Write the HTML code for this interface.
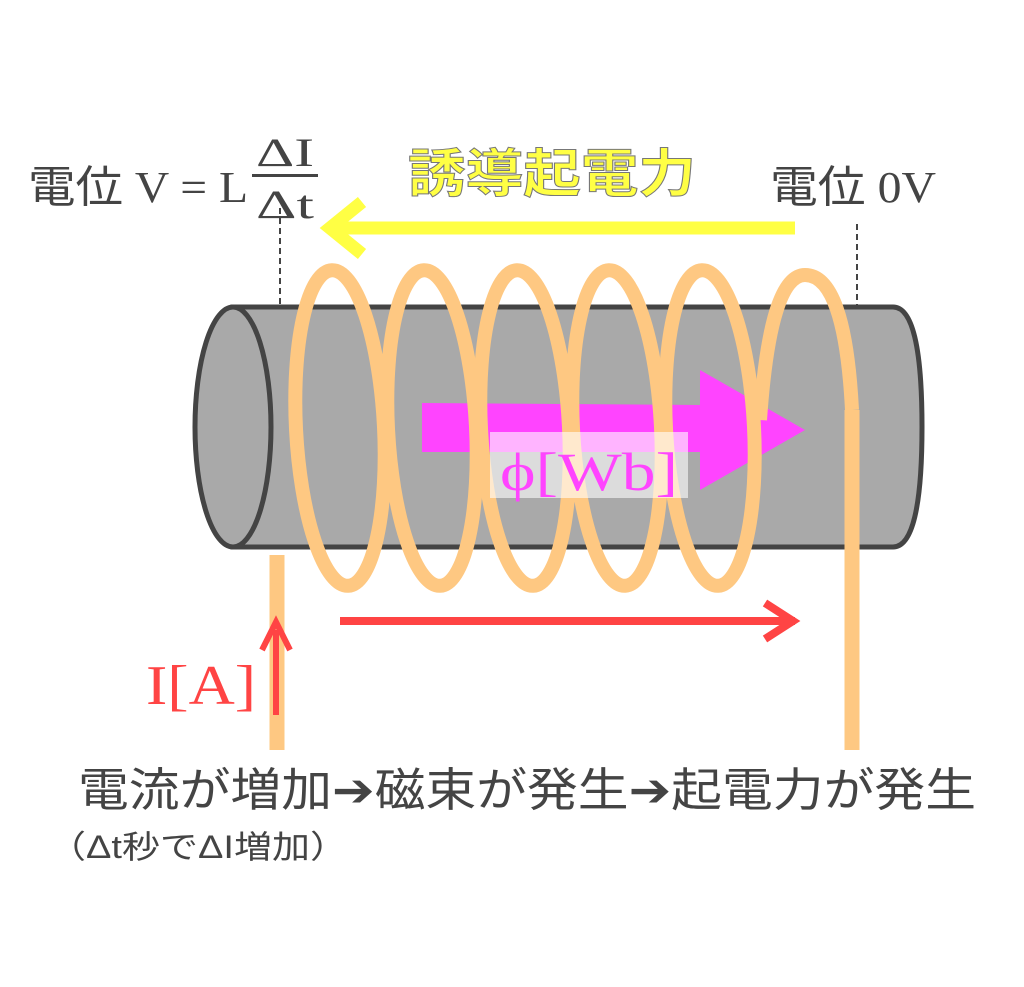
<!DOCTYPE html>
<html><head><meta charset="utf-8"><style>html,body{margin:0;padding:0;background:#fff}svg{display:block}</style></head>
<body>
<svg width="1024" height="987" viewBox="0 0 1024 987" xmlns="http://www.w3.org/2000/svg">
<rect width="1024" height="987" fill="#fff"/>
<g font-family="'Liberation Serif','Noto Serif CJK SC',serif" fill="#444">
<text x="28" y="202" font-size="44" textLength="220" lengthAdjust="spacingAndGlyphs" font-family="'Liberation Serif','Noto Sans CJK JP',serif">電位 V = L</text>
<text x="256" y="166" font-size="40" textLength="58" lengthAdjust="spacingAndGlyphs">ΔI</text>
<rect x="252" y="174" width="66" height="3" fill="#444"/>
<text x="256" y="218" font-size="40" textLength="58" lengthAdjust="spacingAndGlyphs">Δt</text>
<text x="770" y="202" font-size="44" textLength="166" lengthAdjust="spacingAndGlyphs" font-family="'Liberation Serif','Noto Sans CJK JP',serif">電位 0V</text>
</g>
<text x="408" y="192" font-size="52" font-weight="bold" fill="#ffff44" stroke="#777" stroke-width="1" textLength="288" lengthAdjust="spacingAndGlyphs" font-family="'Liberation Sans','Noto Sans CJK JP',sans-serif">誘導起電力</text>
<line x1="795" y1="228" x2="335" y2="228" stroke="#ffff44" stroke-width="13"/>
<polyline points="362,202 330,228 362,254" fill="none" stroke="#ffff44" stroke-width="13"/>
<line x1="280" y1="208" x2="280" y2="388" stroke="#444" stroke-width="2" stroke-dasharray="6,4"/>
<line x1="857" y1="224" x2="857" y2="388" stroke="#444" stroke-width="2" stroke-dasharray="6,4"/>
<path d="M233,307 L893,307 Q922,307 922,427 Q922,547 893,547 L233,547 Z" fill="#a9a9a9" stroke="#444" stroke-width="5"/>
<ellipse cx="233" cy="427" rx="38" ry="120" fill="#a9a9a9" stroke="#444" stroke-width="5"/>
<path d="M422,403 L700,405 L700,370 L805,430 L700,490 L700,452 L422,452 Z" fill="#ff44ff"/>
<line x1="277" y1="555" x2="277" y2="750" stroke="#fec882" stroke-width="15"/>
<line x1="852" y1="410" x2="852" y2="750" stroke="#fec882" stroke-width="15"/>
<g fill="none" stroke="#fec882" stroke-width="14">
<ellipse cx="340" cy="428" rx="44" ry="158" transform="rotate(-3 340 428)"/>
<ellipse cx="432" cy="428" rx="44" ry="158" transform="rotate(-3 432 428)"/>
<ellipse cx="525" cy="428" rx="44" ry="158" transform="rotate(-3 525 428)"/>
<ellipse cx="617" cy="428" rx="44" ry="158" transform="rotate(-3 617 428)"/>
<ellipse cx="710" cy="428" rx="44" ry="158" transform="rotate(-3 710 428)"/>
<path d="M760,420 Q770,275 805,275 Q845,275 852,410"/>
</g>
<rect x="490" y="432" width="198" height="66" fill="#fff" fill-opacity="0.6"/>
<text x="500" y="490" font-size="54" fill="#ff44ff" font-family="'Liberation Serif',serif" textLength="178" lengthAdjust="spacingAndGlyphs">ϕ[Wb]</text>
<line x1="340" y1="621" x2="795" y2="621" stroke="#ff4444" stroke-width="8"/>
<polyline points="765,603 793,621 765,639" fill="none" stroke="#ff4444" stroke-width="8"/>
<line x1="276" y1="715" x2="276" y2="630" stroke="#ff4444" stroke-width="6"/>
<polyline points="262,650 276,622 290,650" fill="none" stroke="#ff4444" stroke-width="6"/>
<text x="146" y="704" font-size="56" fill="#ff4444" font-family="'Liberation Serif',serif" textLength="110" lengthAdjust="spacingAndGlyphs">I[A]</text>
<text x="78" y="806" font-size="46" fill="#444" font-family="'Liberation Sans','Noto Sans CJK JP',sans-serif" textLength="898" lengthAdjust="spacingAndGlyphs">電流が増加➔磁束が発生➔起電力が発生</text>
<text x="48" y="858" font-size="32" fill="#444" font-family="'Liberation Sans','Noto Sans CJK JP',sans-serif" textLength="300" lengthAdjust="spacingAndGlyphs">（Δt秒でΔI増加）</text>
</svg>
</body></html>
